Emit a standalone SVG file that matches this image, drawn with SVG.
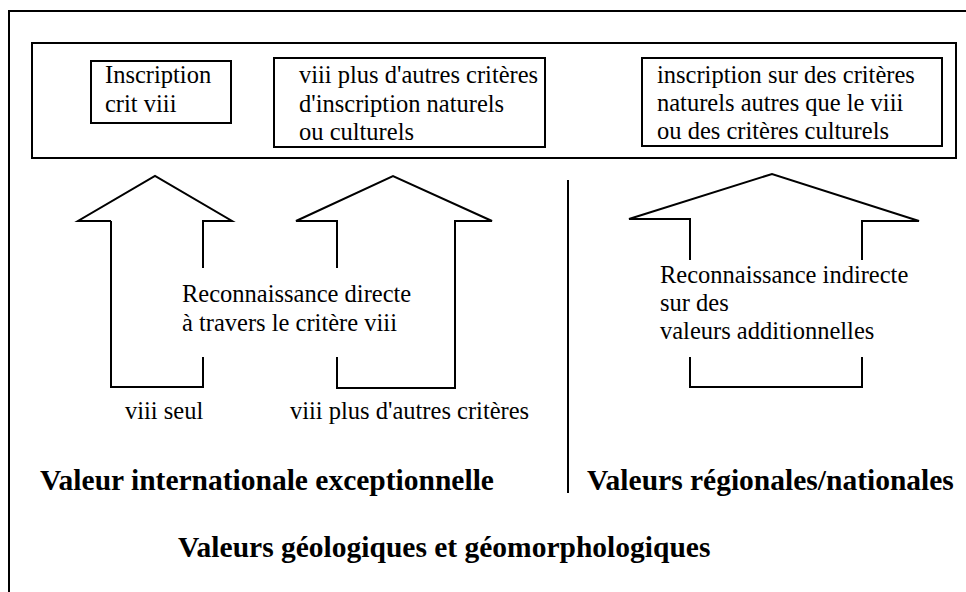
<svg xmlns="http://www.w3.org/2000/svg" width="966" height="592" viewBox="0 0 966 592">
<style>
.ln{fill:none;stroke:#000;stroke-width:2;stroke-linejoin:miter;stroke-linecap:butt}
.t{font-family:"Liberation Serif","Times New Roman",serif;font-size:24.5px;fill:#000}
.b{font-family:"Liberation Serif","Times New Roman",serif;font-size:29.5px;font-weight:bold;fill:#000}
</style>
<rect width="966" height="592" fill="#fff"/>
<g id="frame">
<polyline class="ln" points="9,592 9,11 966,11"/>
</g>
<g id="top-box">
<rect class="ln" x="32" y="43" width="924" height="115"/>
</g>
<g id="node-inscription">
<rect class="ln" x="91" y="61" width="140" height="62"/>
<text class="t" x="105" y="83">Inscription</text>
<text class="t" x="105" y="112">crit viii</text>
</g>
<g id="node-viii-plus">
<rect class="ln" x="274" y="58" width="271" height="89"/>
<text class="t" x="299" y="83">viii plus d'autres critères</text>
<text class="t" x="299" y="112">d'inscription naturels</text>
<text class="t" x="299" y="140">ou culturels</text>
</g>
<g id="node-autres">
<rect class="ln" x="642" y="58" width="300" height="88"/>
<text class="t" x="657" y="83">inscription sur des critères</text>
<text class="t" x="657" y="111">naturels autres que le viii</text>
<text class="t" x="657" y="139">ou des critères culturels</text>
</g>
<g id="connectors">
<path class="ln" d="M111,221 H78 L155,176 L232,221 H203 V268 M203,357 V387 H111 V221"/>
<path class="ln" d="M337,268 V221 H296 L393,176 L492,221 H455 V388 H337 V357"/>
<path class="ln" d="M690,260 V219 H629 L772,174 L919,221 H862 V260 M862,357 V387 H690 V357"/>
<line class="ln" x1="568" y1="180" x2="568" y2="493"/>
</g>
<g id="label-directe">
<text class="t" x="182" y="302">Reconnaissance directe</text>
<text class="t" x="182" y="331">à travers le critère viii</text>
</g>
<g id="label-seul">
<text class="t" x="125" y="419">viii seul</text>
</g>
<g id="label-plus">
<text class="t" x="290" y="419">viii plus d'autres critères</text>
</g>
<g id="label-indirecte">
<text class="t" x="660" y="283">Reconnaissance indirecte</text>
<text class="t" x="660" y="311">sur des</text>
<text class="t" x="660" y="339">valeurs additionnelles</text>
</g>
<g id="label-vue">
<text class="b" x="40" y="490">Valeur internationale exceptionnelle</text>
</g>
<g id="label-regionales">
<text class="b" x="587" y="490">Valeurs régionales/nationales</text>
</g>
<g id="label-geo">
<text class="b" x="178" y="557">Valeurs géologiques et géomorphologiques</text>
</g>
</svg>
